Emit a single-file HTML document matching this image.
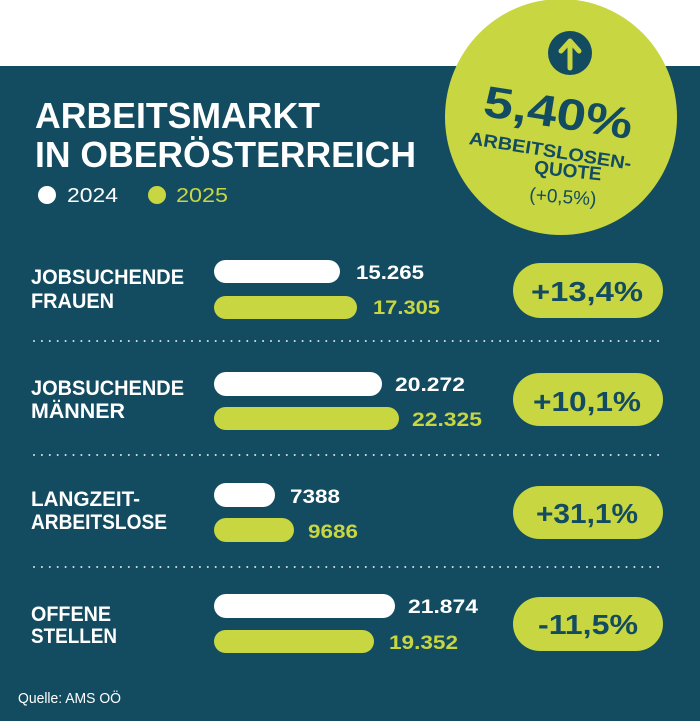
<!DOCTYPE html>
<html><head><meta charset="utf-8"><style>
html,body{margin:0;padding:0;background:#fff}
svg{display:block}
text{font-family:"Liberation Sans",sans-serif;font-weight:bold}
</style></head><body>
<svg width="700" height="721" viewBox="0 0 700 721" xmlns="http://www.w3.org/2000/svg">
<rect x="0" y="0" width="700" height="721" fill="#fff"/>
<rect x="0" y="66" width="700" height="655" fill="#134c61"/>
<text x="35" y="128" font-size="36" fill="#fff" textLength="285" lengthAdjust="spacingAndGlyphs">ARBEITSMARKT</text>
<text x="35" y="167" font-size="36" fill="#fff" textLength="381" lengthAdjust="spacingAndGlyphs">IN OBERÖSTERREICH</text>
<circle cx="47" cy="195" r="9" fill="#fff"/>
<text x="67" y="202" font-size="20" style="font-weight:normal" fill="#fff" textLength="51" lengthAdjust="spacingAndGlyphs">2024</text>
<circle cx="157" cy="195" r="9" fill="#c8d641"/>
<text x="176" y="202" font-size="20" style="font-weight:normal" fill="#c8d641" textLength="52" lengthAdjust="spacingAndGlyphs">2025</text>
<ellipse cx="561" cy="117" rx="116" ry="118" fill="#c8d641"/>
<circle cx="570" cy="53" r="22" fill="#134c61"/>
<path d="M570 68 V42 M561 51 L570 41 L579 51" stroke="#c8d641" stroke-width="5" fill="none" stroke-linecap="round" stroke-linejoin="round"/>
<g fill="#134c61" transform="rotate(9 560 115)">
<text x="558" y="128" font-size="44" text-anchor="middle" textLength="150" lengthAdjust="spacingAndGlyphs">5,40%</text>
<text x="556" y="158" font-size="18" text-anchor="middle" textLength="164" lengthAdjust="spacingAndGlyphs">ARBEITSLOSEN-</text>
</g>
<text x="568" y="177" font-size="19" fill="#134c61" text-anchor="middle" transform="rotate(6 568 170)">QUOTE</text>
<text x="563" y="203" font-size="19" style="font-weight:normal" fill="#134c61" text-anchor="middle" transform="rotate(4 563 196)">(+0,5%)</text>
<g stroke="#ffffff" stroke-width="2" stroke-linecap="round" stroke-dasharray="0 7.9" opacity="0.85">
<line x1="34" y1="341" x2="664" y2="341"/>
<line x1="34" y1="455" x2="664" y2="455"/>
<line x1="34" y1="567" x2="664" y2="567"/>
</g>
<g fill="#fff">
<text x="31" y="284" font-size="21" textLength="153" lengthAdjust="spacingAndGlyphs">JOBSUCHENDE</text>
<text x="31" y="308" font-size="21" textLength="83" lengthAdjust="spacingAndGlyphs">FRAUEN</text>
<text x="31" y="395" font-size="21" textLength="153" lengthAdjust="spacingAndGlyphs">JOBSUCHENDE</text>
<text x="31" y="418" font-size="21" textLength="94" lengthAdjust="spacingAndGlyphs">MÄNNER</text>
<text x="31" y="506" font-size="21" textLength="109" lengthAdjust="spacingAndGlyphs">LANGZEIT-</text>
<text x="31" y="529" font-size="21" textLength="136" lengthAdjust="spacingAndGlyphs">ARBEITSLOSE</text>
<text x="31" y="621" font-size="21" textLength="80" lengthAdjust="spacingAndGlyphs">OFFENE</text>
<text x="31" y="643" font-size="21" textLength="86" lengthAdjust="spacingAndGlyphs">STELLEN</text>
<rect x="214" y="260" width="126" height="23" rx="11.5"/>
<rect x="214" y="372" width="168" height="24" rx="12"/>
<rect x="214" y="483" width="61" height="24" rx="12"/>
<rect x="214" y="594" width="181" height="24" rx="12"/>
<text x="356" y="279" font-size="19" textLength="68" lengthAdjust="spacingAndGlyphs">15.265</text>
<text x="395" y="391" font-size="19" textLength="70" lengthAdjust="spacingAndGlyphs">20.272</text>
<text x="290" y="503" font-size="19" textLength="50" lengthAdjust="spacingAndGlyphs">7388</text>
<text x="408" y="613" font-size="19" textLength="70" lengthAdjust="spacingAndGlyphs">21.874</text>
</g>
<g fill="#c8d641">
<rect x="214" y="296" width="143" height="23" rx="11.5"/>
<rect x="214" y="407" width="185" height="23" rx="11.5"/>
<rect x="214" y="518" width="80" height="24" rx="12"/>
<rect x="214" y="630" width="160" height="23" rx="11.5"/>
<text x="373" y="314" font-size="19" textLength="67" lengthAdjust="spacingAndGlyphs">17.305</text>
<text x="412" y="426" font-size="19" textLength="70" lengthAdjust="spacingAndGlyphs">22.325</text>
<text x="308" y="538" font-size="19" textLength="50" lengthAdjust="spacingAndGlyphs">9686</text>
<text x="389" y="649" font-size="19" textLength="69" lengthAdjust="spacingAndGlyphs">19.352</text>
<rect x="513" y="263" width="150" height="55" rx="27.5"/>
<rect x="513" y="373" width="150" height="53" rx="26.5"/>
<rect x="513" y="486" width="150" height="53" rx="26.5"/>
<rect x="513" y="597" width="150" height="54" rx="27"/>
</g>
<g fill="#134c61" font-size="28">
<text x="531" y="301" textLength="112" lengthAdjust="spacingAndGlyphs">+13,4%</text>
<text x="533" y="411" textLength="108" lengthAdjust="spacingAndGlyphs">+10,1%</text>
<text x="536" y="523" textLength="102" lengthAdjust="spacingAndGlyphs">+31,1%</text>
<text x="538" y="634" textLength="100" lengthAdjust="spacingAndGlyphs">-11,5%</text>
</g>
<text x="18" y="703" font-size="15" style="font-weight:normal" fill="#fff" textLength="103" lengthAdjust="spacingAndGlyphs">Quelle: AMS OÖ</text>
</svg>
</body></html>
